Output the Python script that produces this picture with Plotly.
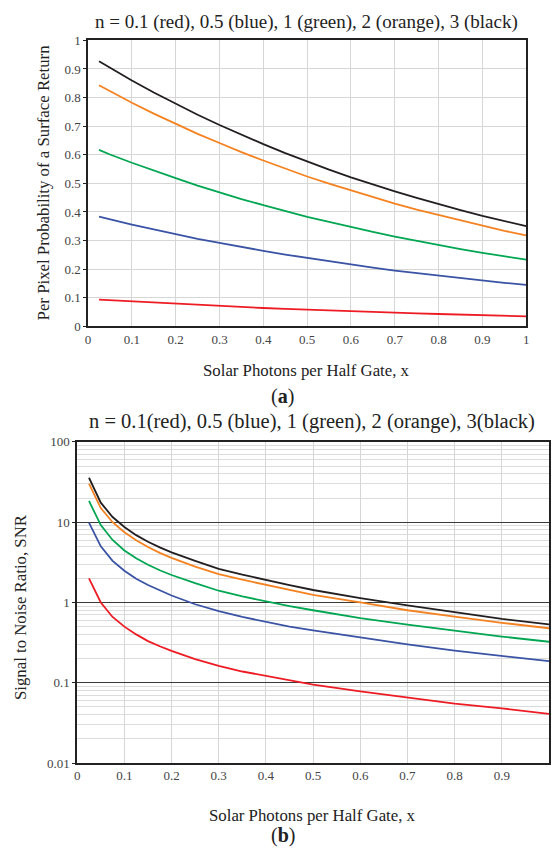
import plotly.graph_objects as go

# ---------------- data ----------------
x_prob = [0.025, 0.05, 0.1, 0.15, 0.2, 0.25, 0.3, 0.35, 0.4, 0.45, 0.5,
          0.55, 0.6, 0.65, 0.7, 0.75, 0.8, 0.85, 0.9, 0.95, 1.0]
prob_n01 = [0.093, 0.091, 0.086, 0.082, 0.078, 0.074, 0.071, 0.067, 0.064, 0.061, 0.058,
            0.055, 0.052, 0.050, 0.047, 0.045, 0.043, 0.041, 0.039, 0.037, 0.035]
prob_n05 = [0.384, 0.374, 0.356, 0.339, 0.322, 0.306, 0.292, 0.277, 0.264, 0.251, 0.239,
            0.227, 0.216, 0.205, 0.195, 0.186, 0.177, 0.168, 0.160, 0.152, 0.145]
prob_n1 = [0.617, 0.601, 0.572, 0.544, 0.518, 0.492, 0.468, 0.445, 0.424, 0.403, 0.383,
           0.365, 0.347, 0.330, 0.314, 0.299, 0.284, 0.270, 0.257, 0.244, 0.233]
prob_n2 = [0.843, 0.822, 0.782, 0.744, 0.708, 0.673, 0.641, 0.609, 0.580, 0.551, 0.524,
           0.499, 0.475, 0.451, 0.429, 0.408, 0.389, 0.370, 0.352, 0.334, 0.318]
prob_n3 = [0.927, 0.904, 0.860, 0.818, 0.778, 0.740, 0.704, 0.670, 0.637, 0.606, 0.576,
           0.548, 0.521, 0.496, 0.472, 0.449, 0.427, 0.406, 0.386, 0.367, 0.350]

x_snr = [0.025, 0.05, 0.075, 0.1, 0.125, 0.15, 0.175, 0.2, 0.25, 0.3, 0.35, 0.4,
         0.45, 0.5, 0.6, 0.7, 0.8, 0.9, 1.0]
snr_n01 = [2.0, 1.0, 0.66, 0.50, 0.40, 0.33, 0.285, 0.25, 0.197, 0.162, 0.138, 0.121,
           0.107, 0.095, 0.078, 0.066, 0.055, 0.048, 0.041]
snr_n05 = [9.9, 5.0, 3.3, 2.48, 1.97, 1.65, 1.42, 1.22, 0.95, 0.78, 0.66, 0.57,
           0.50, 0.45, 0.366, 0.30, 0.251, 0.216, 0.186]
snr_n1 = [18.4, 9.2, 6.0, 4.45, 3.55, 2.95, 2.52, 2.2, 1.74, 1.40, 1.19, 1.03,
          0.90, 0.80, 0.64, 0.53, 0.442, 0.376, 0.324]
snr_n2 = [30.3, 15.0, 10.0, 7.5, 5.95, 4.9, 4.15, 3.6, 2.8, 2.25, 1.92, 1.65,
          1.42, 1.24, 1.0, 0.80, 0.668, 0.558, 0.477]
snr_n3 = [35.8, 17.5, 11.6, 8.7, 6.9, 5.7, 4.85, 4.2, 3.3, 2.62, 2.22, 1.90,
          1.65, 1.43, 1.13, 0.92, 0.755, 0.625, 0.533]

series_names = ["n = 0.1", "n = 0.5", "n = 1", "n = 2", "n = 3"]
series_colors = ["#ed1c24", "#3a53a4", "#00a651", "#f58220", "#231f20"]

top_ticks = [0, 0.1, 0.2, 0.3, 0.4, 0.5, 0.6, 0.7, 0.8, 0.9, 1]
top_ticktext = ["0", "0.1", "0.2", "0.3", "0.4", "0.5", "0.6", "0.7", "0.8", "0.9", "1"]
bot_xticks = [0, 0.1, 0.2, 0.3, 0.4, 0.5, 0.6, 0.7, 0.8, 0.9]
bot_xticktext = ["0", "0.1", "0.2", "0.3", "0.4", "0.5", "0.6", "0.7", "0.8", "0.9"]
bot_yticks = [0.01, 0.1, 1, 10, 100]
bot_yticktext = ["0.01", "0.1", "1", "10", "100"]
bot_minor = [m * d for d in [0.01, 0.1, 1, 10] for m in range(2, 10)]

# ---------------- figure ----------------
W, H = 552, 855
FONT = "Liberation Serif"
fig = go.Figure()

for ys, name, col in zip([prob_n01, prob_n05, prob_n1, prob_n2, prob_n3], series_names, series_colors):
    fig.add_trace(go.Scatter(x=x_prob, y=ys, mode="lines", name=name,
                             line=dict(color=col, width=1.8), xaxis="x", yaxis="y",
                             showlegend=False))

for ys, name, col in zip([snr_n01, snr_n05, snr_n1, snr_n2, snr_n3], series_names, series_colors):
    fig.add_trace(go.Scatter(x=x_snr, y=ys, mode="lines", name=name,
                             line=dict(color=col, width=1.8), xaxis="x2", yaxis="y2",
                             showlegend=False))

def px_x(p):
    return p / W

def px_y(p):
    return 1 - p / H

tickfont = dict(family=FONT, size=13, color="#444444")

fig.update_layout(
    width=W, height=H,
    margin=dict(l=0, r=0, t=0, b=0),
    paper_bgcolor="white", plot_bgcolor="white",
    font=dict(family=FONT, color="#222222"),
    xaxis=dict(domain=[px_x(86), px_x(529)], range=[0, 1], tickvals=top_ticks,
               ticktext=top_ticktext, showgrid=True, gridcolor="#d6d6d6", gridwidth=1.3,
               zeroline=False, showline=True, linecolor="#222222", linewidth=1.5,
               mirror=True, ticks="", tickfont=tickfont, anchor="y"),
    yaxis=dict(domain=[px_y(325), px_y(34)], range=[0, 1], tickvals=top_ticks,
               ticktext=top_ticktext, showgrid=True, gridcolor="#d6d6d6", gridwidth=1.3,
               zeroline=False, showline=True, linecolor="#222222", linewidth=1.5,
               mirror=True, ticks="outside", ticklen=3, tickcolor="#222222",
               tickfont=tickfont, anchor="x"),
    xaxis2=dict(domain=[px_x(75), 1.0], range=[0, 1.0], tickvals=bot_xticks,
                ticktext=bot_xticktext, showgrid=True, gridcolor="#d6d6d6", gridwidth=1.3,
                zeroline=False, showline=True, linecolor="#222222", linewidth=1.5,
                mirror=True, ticks="", tickfont=tickfont, anchor="y2"),
    yaxis2=dict(domain=[px_y(769.5), px_y(442.7)], type="log", range=[-2, 2],
                tickvals=bot_yticks, ticktext=bot_yticktext, showgrid=True,
                gridcolor="#3a3a3a", gridwidth=1.3, zeroline=False, showline=True,
                linecolor="#222222", linewidth=1.5, mirror=True, ticks="outside",
                ticklen=3, tickcolor="#222222", tickfont=tickfont, anchor="x2",
                minor=dict(tickvals=bot_minor, showgrid=True, gridcolor="#dcdcdc",
                           gridwidth=1.2, ticks="")),
)

title_font = dict(family=FONT, size=19, color="#222222")
title2_font = dict(family=FONT, size=20.5, color="#222222")
axis_font = dict(family=FONT, size=16.8, color="#222222")
label_font = dict(family=FONT, size=20, color="#222222")

ann = [
    dict(text="n = 0.1 (red), 0.5 (blue), 1 (green), 2 (orange), 3 (black)",
         x=px_x(307), y=px_y(15), font=title_font),
    dict(text="Per Pixel Probability of a Surface Return", x=px_x(41), y=px_y(179),
         textangle=-90, font=axis_font),
    dict(text="Solar Photons per Half Gate, x", x=px_x(307), y=px_y(370), font=axis_font),
    dict(text="(<b>a</b>)", x=px_x(283), y=px_y(396), font=label_font),
    dict(text="n = 0.1(red), 0.5 (blue), 1 (green), 2 (orange), 3(black)",
         x=px_x(312), y=px_y(422), font=title2_font),
    dict(text="Signal to Noise Ratio, SNR", x=px_x(17), y=px_y(611), textangle=-90,
         font=axis_font),
    dict(text="Solar Photons per Half Gate, x", x=px_x(313), y=px_y(823), font=axis_font),
    dict(text="(<b>b</b>)", x=px_x(283), y=px_y(843), font=label_font),
]
for a in ann:
    a.update(xref="paper", yref="paper", showarrow=False, xanchor="center", yanchor="middle")
fig.update_layout(annotations=ann)

fig.write_html("out.html",
               config={"displayModeBar": False},
               post_script="document.body.style.margin='0';document.body.style.padding='0';"
                           "document.documentElement.style.overflow='hidden';")
